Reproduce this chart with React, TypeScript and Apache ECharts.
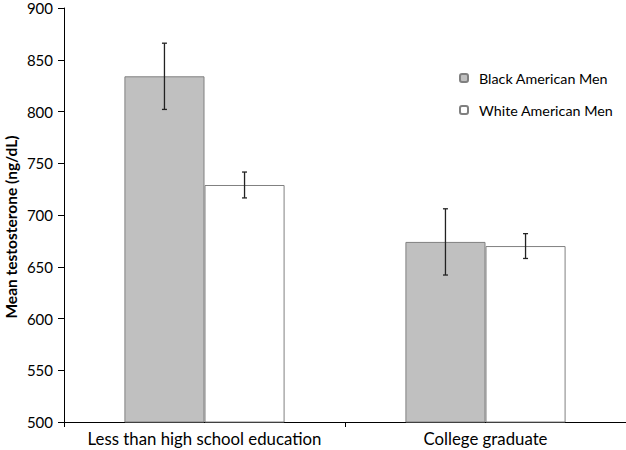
import React, { useEffect, useRef } from "react";
import * as echarts from "echarts";

const categories = ["Less than high school education", "College graduate"];
const seriesNames = ["Black American Men", "White American Men"];
const blackMeans = [834, 674];
const blackErr = [32, 32];
const whiteMeans = [729, 670];
const whiteErr = [12.5, 12];
const yTicks = { min: 500, max: 900, interval: 50 };
const yTitle = "Mean testosterone (ng/dL)";

const FONT = "Lato";
const GAP = 0.43;

export default function App() {
  const ref = useRef<HTMLDivElement>(null);
  useEffect(() => {
    const chart = echarts.init(ref.current!, null, { renderer: "svg" });
    const errData: number[][] = [];
    categories.forEach((_, i) => {
      errData.push([i, blackMeans[i] - blackErr[i], blackMeans[i] + blackErr[i], -1]);
      errData.push([i, whiteMeans[i] - whiteErr[i], whiteMeans[i] + whiteErr[i], 1]);
    });
    chart.setOption({
      animation: false,
      textStyle: { fontFamily: FONT },
      grid: { left: 64, right: 0, top: 8, bottom: 28, outerBoundsMode: "none", containLabel: false },
      graphic: [
        {
          type: "text",
          x: 11,
          y: 227,
          rotation: Math.PI / 2,
          style: {
            text: yTitle,
            fontFamily: FONT,
            fontSize: 15.5,
            fontWeight: "bold",
            fill: "#000",
            textAlign: "center",
            textVerticalAlign: "middle",
          },
        },
      ],
      legend: {
        orient: "vertical",
        left: 454,
        top: 66,
        itemWidth: 8,
        itemHeight: 8,
        itemGap: 18,
        data: seriesNames,
        textStyle: { fontFamily: FONT, fontSize: 14.3, color: "#000", padding: [0, 0, 0, 6] },
      },
      xAxis: {
        type: "category",
        data: categories,
        axisLine: { lineStyle: { color: "#000", width: 1 } },
        axisTick: { show: true, length: 5, lineStyle: { color: "#000" } },
        axisLabel: { color: "#000", fontSize: 16.8, fontFamily: FONT, margin: 8, interval: 0 },
      },
      yAxis: {
        type: "value",
        min: yTicks.min,
        max: yTicks.max,
        interval: yTicks.interval,
        splitLine: { show: false },
        axisLine: { show: true, lineStyle: { color: "#000", width: 1 } },
        axisTick: { show: true, inside: false, length: 6, lineStyle: { color: "#000" } },
        axisLabel: { color: "#000", fontSize: 15, fontFamily: FONT, margin: 11 },
      },
      series: [
        {
          name: seriesNames[0],
          type: "bar",
          data: blackMeans,
          barGap: "0%",
          barCategoryGap: GAP * 100 + "%",
          itemStyle: { color: "#c0c0c0", borderColor: "#808080", borderWidth: 1 },
        },
        {
          name: seriesNames[1],
          type: "bar",
          data: whiteMeans,
          itemStyle: { color: "#ffffff", borderColor: "#808080", borderWidth: 1 },
        },
        {
          type: "custom",
          data: errData,
          z: 10,
          renderItem: (params: any, api: any) => {
            const cat = api.value(0);
            const lo = api.coord([cat, api.value(1)]);
            const hi = api.coord([cat, api.value(2)]);
            const side = api.value(3);
            const catW = api.size([1, 0])[0];
            const barW = (catW * (1 - GAP)) / 2;
            const x = lo[0] + (side * barW) / 2;
            const cap = 2.5;
            const style = { stroke: "#222", lineWidth: 1.3 };
            return {
              type: "group",
              children: [
                { type: "line", shape: { x1: x, y1: lo[1], x2: x, y2: hi[1] }, style },
                { type: "line", shape: { x1: x - cap, y1: lo[1], x2: x + cap, y2: lo[1] }, style },
                { type: "line", shape: { x1: x - cap, y1: hi[1], x2: x + cap, y2: hi[1] }, style },
              ],
            };
          },
        },
      ],
    });
    return () => chart.dispose();
  }, []);
  return (
    <div
      ref={ref}
      style={{ position: "fixed", left: 0, top: 0, width: 626, height: 450, background: "#fff" }}
    />
  );
}
